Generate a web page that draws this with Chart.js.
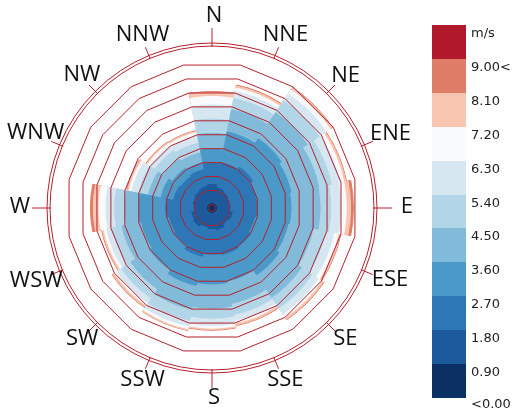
<!DOCTYPE html>
<html>
<head>
<meta charset="utf-8">
<script src="https://cdn.jsdelivr.net/npm/chart.js@4.4.1/dist/chart.umd.min.js"></script>
<style>
  html, body { margin: 0; padding: 0; background: #fff; }
  #wrap { position: relative; width: 516px; height: 410px; overflow: hidden; }
  #rose { position: absolute; left: 0; top: 0; }
  #legend { position: absolute; left: 432px; top: 25px; font-family: "DejaVu Sans", Verdana, sans-serif; font-size: 13px; color: #222; }
  .sw { position: absolute; left: 0; width: 34px; }
  .lb { position: absolute; left: 39px; white-space: nowrap; transform: translateY(-50%); }
</style>
</head>
<body>
<div id="wrap">
  <canvas id="rose" width="516" height="410"></canvas>
  <div id="legend"></div>
</div>
<script>
const directions = ['N', 'NNE', 'NE', 'ENE', 'E', 'ESE', 'SE', 'SSE', 'S', 'SSW', 'SW', 'WSW', 'W', 'WNW', 'NW', 'NNW'];

// legend labels, bottom to top
const speedLabels = ['<0.00', '0.90', '1.80', '2.70', '3.60', '4.50', '5.40', '6.30', '7.20', '8.10', '9.00<', 'm/s'];

// grid rings of the radial axis
const ringValues = [0, 1, 2, 3, 4, 5, 6, 7, 8, 9, 10];

// cumulative radius reached by each speed band, per direction (N .. NNW)
const upTo0_9 = [0.05, 0.05, 0.05, 0.05, 0.05, 0.05, 0.05, 0.05, 0.05, 0.05, 0.05, 0.05, 0.05, 0.05, 0.05, 0.05];
const upTo1_8 = [1.4, 1.2, 1.1, 1.0, 1.0, 1.2, 1.1, 1.3, 1.2, 1.1, 1.3, 1.2, 1.0, 1.1, 1.2, 1.3];
const upTo2_7 = [2.9, 3.0, 3.2, 2.9, 2.9, 2.8, 3.0, 3.1, 3.0, 3.2, 2.9, 2.8, 3.0, 2.5, 2.4, 2.5];
const upTo3_6 = [3.9, 5.2, 5.6, 5.4, 5.3, 5.2, 5.4, 5.0, 5.1, 5.3, 5.0, 4.8, 4.9, 3.4, 3.1, 3.0];
const upTo4_5 = [5.0, 6.8, 7.8, 7.4, 7.35, 7.0, 7.3, 6.6, 6.8, 7.0, 6.6, 6.2, 5.9, 4.3, 3.9, 3.7];
const upTo5_4 = [6.0, 7.6, 8.8, 8.3, 8.1, 7.9, 8.2, 7.4, 7.5, 7.8, 7.4, 6.9, 6.6, 5.0, 4.6, 4.4];
const upTo6_3 = [7.0, 8.1, 9.4, 8.9, 8.8, 8.5, 8.7, 7.8, 8.0, 8.2, 7.8, 7.3, 7.2, 5.5, 5.0, 4.9];
const upTo7_2 = [7.6, 8.35, 9.75, 9.2, 9.2, 8.8, 9.0, 8.0, 8.2, 8.4, 8.0, 7.5, 7.7, 5.7, 5.2, 5.15];
const upTo8_1 = [7.88, 8.5, 9.9, 9.35, 9.5, 8.95, 9.15, 8.15, 8.3, 8.5, 8.15, 7.62, 8.1, 5.82, 5.3, 5.25];
const upTo9_0 = [7.95, 8.57, 9.95, 9.4, 9.7, 9.0, 9.2, 8.2, 8.35, 8.53, 8.2, 7.67, 8.3, 5.87, 5.35, 5.3];

const bands = [upTo0_9, upTo1_8, upTo2_7, upTo3_6, upTo4_5, upTo5_4, upTo6_3, upTo7_2, upTo8_1, upTo9_0];

// colours, slowest band first (last one is 9.00< and above)
const bandColors = ['#0b3162', '#1c5a9c', '#2e77b7', '#4a99c9', '#82bada', '#b3d5e8', '#d6e7f1', '#f9fafc', '#f8c5b1', '#e07d68', '#b2182b'];
const gridRed = '#b3202c';

const roseFrame = {
    id: 'roseFrame',
    afterDraw(chart) {
        const r = chart.scales.r;
        const ctx = chart.ctx;
        const cx = r.xCenter, cy = r.yCenter;
        const rim = r.drawingArea;
        ctx.save();
        ctx.strokeStyle = gridRed;
        ctx.lineWidth = 1;
        [rim, rim + 3].forEach(rad => {
            ctx.beginPath();
            ctx.arc(cx, cy, rad, 0, Math.PI * 2);
            ctx.stroke();
        });
        ctx.fillStyle = '#111';
        ctx.font = '22px "Open Sans", sans-serif';
        ctx.textAlign = 'center';
        ctx.textBaseline = 'middle';
        directions.forEach((d, i) => {
            const a = i * Math.PI / 8;
            const s = Math.sin(a), c = Math.cos(a);
            const outer = i % 4 === 0 ? rim + 18 : rim + 12;
            ctx.beginPath();
            ctx.moveTo(cx + (rim - 1) * s, cy - (rim - 1) * c);
            ctx.lineTo(cx + outer * s, cy - outer * c);
            ctx.stroke();
            // cardinal labels and wide side labels sit a bit further out
            const w = ctx.measureText(d).width;
            const c2 = Math.cos(2 * a);
            const lr = rim + 22 + 7 * c2 * c2 * c2 * c2 + 0.15 * w * s * s;
            ctx.fillText(d, cx + 2 + lr * s, cy - 1 - lr * c);
        });
        ctx.restore();
    }
};

new Chart(document.getElementById('rose'), {
    type: 'polarArea',
    data: {
        labels: directions,
        datasets: bands.map((vals, i) => ({
            label: speedLabels[i + 1],
            data: vals,
            backgroundColor: bandColors[i],
            borderColor: bandColors[i],
            borderWidth: 1
        }))
    },
    options: {
        responsive: false,
        animation: false,
        layout: { padding: { left: 50, top: 46, right: 142, bottom: 40 } },
        plugins: {
            legend: { display: false },
            tooltip: { enabled: false }
        },
        scales: {
            r: {
                startAngle: -11.25,
                min: -0.255,
                max: 11.145,
                afterBuildTicks: (scale) => {
                    scale.ticks = [scale.min, ...ringValues].map(v => ({ value: v }));
                },
                ticks: { display: false, z: 1 },
                grid: {
                    z: 1,
                    circular: false,
                    lineWidth: 1,
                    color: (c) => (c.tick && c.tick.value >= 0 ? gridRed : 'rgba(0,0,0,0)')
                },
                angleLines: { display: false },
                pointLabels: { display: false }
            }
        }
    },
    plugins: [roseFrame]
});

// colour key on the right
const legend = document.getElementById('legend');
const boxH = 33.9;
for (let k = 0; k < bandColors.length; k++) {
    const sw = document.createElement('div');
    sw.className = 'sw';
    sw.style.top = (k * boxH) + 'px';
    sw.style.height = (boxH + 0.5) + 'px';
    sw.style.background = bandColors[bandColors.length - 1 - k];
    legend.appendChild(sw);
}
for (let k = 0; k < speedLabels.length; k++) {
    const lb = document.createElement('div');
    lb.className = 'lb';
    lb.style.top = (k * boxH + (k === speedLabels.length - 1 ? 5 : 7)) + 'px';
    lb.textContent = speedLabels[speedLabels.length - 1 - k];
    legend.appendChild(lb);
}
</script>
</body>
</html>
